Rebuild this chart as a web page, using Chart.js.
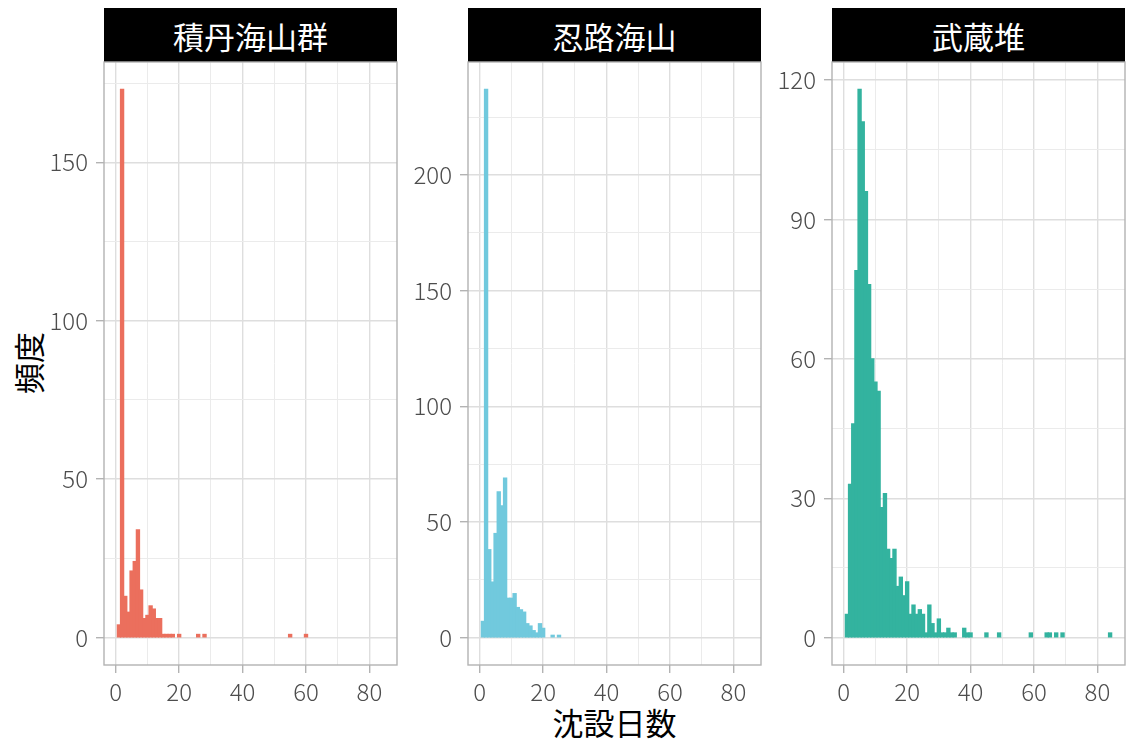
<!DOCTYPE html>
<html>
<head>
<meta charset="utf-8">
<script src="https://cdn.jsdelivr.net/npm/chart.js@4/dist/chart.umd.min.js"></script>
<style>
  body { margin: 0; width: 1126px; height: 744px; background: #fff; position: relative; overflow: hidden;
         font-family: "Noto Sans CJK JP", sans-serif; }
  .strip { position: absolute; top: 8px; height: 54px; background: #000; color: #fff;
           font-size: 31px; font-weight: 400; display: flex; align-items: center; justify-content: center; }
  canvas { position: absolute; }
  #xtitle { position: absolute; left: 104px; width: 1021px; top: 700px; text-align: center;
            font-size: 31px; line-height: 44px; color: #000; }
  #ytitle { position: absolute; left: 28px; top: 363px; transform: translate(-50%, -50%) rotate(-90deg);
            font-size: 31px; line-height: 40px; color: #000; white-space: nowrap; }
</style>
</head>
<body>
<div id="xtitle">沈設日数</div>
<div id="ytitle">頻度</div>

<script>
// Histogram bins: one bin per day (days 1..84)
const days = Array.from({length: 84}, (_, i) => i + 1);

const siteNames = ["積丹海山群", "忍路海山", "武蔵堆"];

// Counts per day, starting at day 1
const shakotanCounts = [4, 173, 13, 8, 21, 24, 34, 15, 6, 7, 10, 9, 6, 6, 1, 1, 1, 1, 0, 1,
  0, 0, 0, 0, 0, 1, 0, 1, 0, 0, 0, 0, 0, 0, 0, 0, 0, 0, 0, 0,
  0, 0, 0, 0, 0, 0, 0, 0, 0, 0, 0, 0, 0, 0, 1, 0, 0, 0, 0, 1];
const oshoroCounts = [7, 237, 38, 24, 45, 63, 57, 69, 17, 17, 19, 13, 12, 11, 6, 5, 3, 2, 6, 4,
  0, 0, 1, 0, 1];
const musashiCounts = [5, 33, 46, 79, 118, 111, 96, 76, 60, 55, 53, 28, 31, 19, 17, 19, 11, 13, 9, 12,
  5, 7, 5, 6, 5, 1, 7, 3, 1, 4, 1, 1, 2, 1, 1, 0, 0, 2, 1, 1,
  0, 0, 0, 0, 1, 0, 0, 0, 1, 0, 0, 0, 0, 0, 0, 0, 0, 0, 1, 0,
  0, 0, 0, 1, 1, 0, 1, 0, 1, 0, 0, 0, 0, 0, 0, 0, 0, 0, 0, 0,
  0, 0, 0, 1];

// Axis ticks
const xMajorTicks = [0, 20, 40, 60, 80];
const xGridTicks = [0, 10, 20, 30, 40, 50, 60, 70, 80];
const yMajorTicks = [[0, 50, 100, 150], [0, 50, 100, 150, 200], [0, 30, 60, 90, 120]];
const yGridTicks = [[0, 25, 50, 75, 100, 125, 150, 175],
                    [0, 25, 50, 75, 100, 125, 150, 175, 200, 225],
                    [0, 15, 30, 45, 60, 75, 90, 105, 120]];

// Fill colours (80% tints on white)
const barColors = ["rgb(235,111,93)", "rgb(113,201,221)", "rgb(51,179,159)"];

// Layout of the three facets
const panelLefts = [104, 468, 832];
const panelWidth = 293;
const panelTop = 62, panelHeight = 603;
const yAxisWidth = 100, padTop = 24, padRight = 10, xAxisHeight = 60;
const xRange = [-3.7, 88.7];

const tickFont = { family: "Noto Sans CJK JP", size: 24, weight: 300 };

const panelBorder = {
  id: 'panelBorder',
  afterDraw(chart) {
    const { ctx, chartArea: a } = chart;
    ctx.save();
    ctx.strokeStyle = '#B3B3B3';
    ctx.lineWidth = 1.4;
    ctx.strokeRect(a.left, a.top, a.right - a.left, a.bottom - a.top);
    ctx.restore();
  }
};

function yRangeFor(counts) {
  const m = Math.max(...counts);
  return [-0.05 * m, 1.05 * m];
}

function drawPanel(idx, counts) {
  const strip = document.createElement('div');
  strip.className = 'strip';
  strip.style.left = panelLefts[idx] + 'px';
  strip.style.width = panelWidth + 'px';
  strip.textContent = siteNames[idx];
  document.body.appendChild(strip);

  const canvas = document.createElement('canvas');
  const w = yAxisWidth + panelWidth + padRight;
  const h = padTop + panelHeight + xAxisHeight;
  canvas.width = w; canvas.height = h;
  canvas.style.width = w + 'px'; canvas.style.height = h + 'px';
  canvas.style.left = (panelLefts[idx] - yAxisWidth) + 'px';
  canvas.style.top = (panelTop - padTop) + 'px';
  document.body.appendChild(canvas);

  const yr = yRangeFor(counts);
  const yMaj = yMajorTicks[idx];
  const yGrid = yGridTicks[idx];

  new Chart(canvas, {
    type: 'bar',
    data: {
      datasets: [{
        // empty bins are left undrawn
        data: counts.map((c, i) => ({ x: days[i], y: c > 0 ? c : null })),
        backgroundColor: barColors[idx],
        borderWidth: 0,
        inflateAmount: 0.6,
        barPercentage: 1,
        categoryPercentage: 1
      }]
    },
    options: {
      responsive: false,
      animation: false,
      devicePixelRatio: 1,
      layout: { padding: { top: padTop, right: padRight, left: 0, bottom: 0 } },
      plugins: { legend: { display: false }, tooltip: { enabled: false } },
      scales: {
        x: {
          type: 'linear', min: xRange[0], max: xRange[1], offset: false,
          afterBuildTicks: s => { s.ticks = xGridTicks.map(v => ({ value: v })); },
          afterFit: s => { s.height = xAxisHeight; },
          border: { display: false },
          grid: {
            offset: false,
            color: c => xMajorTicks.includes(c.tick && c.tick.value) ? '#DEDEDE' : '#EBEBEB',
            lineWidth: c => xMajorTicks.includes(c.tick && c.tick.value) ? 1.4 : 1,
            tickColor: c => xMajorTicks.includes(c.tick && c.tick.value) ? '#B3B3B3' : 'rgba(0,0,0,0)',
            tickLength: 8
          },
          ticks: {
            autoSkip: false, maxRotation: 0, minRotation: 0, padding: 4,
            color: '#4D4D4D', font: tickFont,
            callback: v => xMajorTicks.includes(v) ? String(v) : ''
          }
        },
        y: {
          type: 'linear', min: yr[0], max: yr[1],
          afterBuildTicks: s => { s.ticks = yGrid.map(v => ({ value: v })); },
          afterFit: s => { s.width = yAxisWidth; },
          border: { display: false },
          grid: {
            color: c => yMaj.includes(c.tick && c.tick.value) ? '#DEDEDE' : '#EBEBEB',
            lineWidth: c => yMaj.includes(c.tick && c.tick.value) ? 1.4 : 1,
            tickColor: c => yMaj.includes(c.tick && c.tick.value) ? '#B3B3B3' : 'rgba(0,0,0,0)',
            tickLength: 8
          },
          ticks: {
            autoSkip: false, padding: 8,
            color: '#4D4D4D', font: tickFont,
            callback: v => yMaj.includes(v) ? String(v) : ''
          }
        }
      }
    },
    plugins: [panelBorder]
  });
}

drawPanel(0, shakotanCounts);
drawPanel(1, oshoroCounts);
drawPanel(2, musashiCounts);
</script>
</body>
</html>
